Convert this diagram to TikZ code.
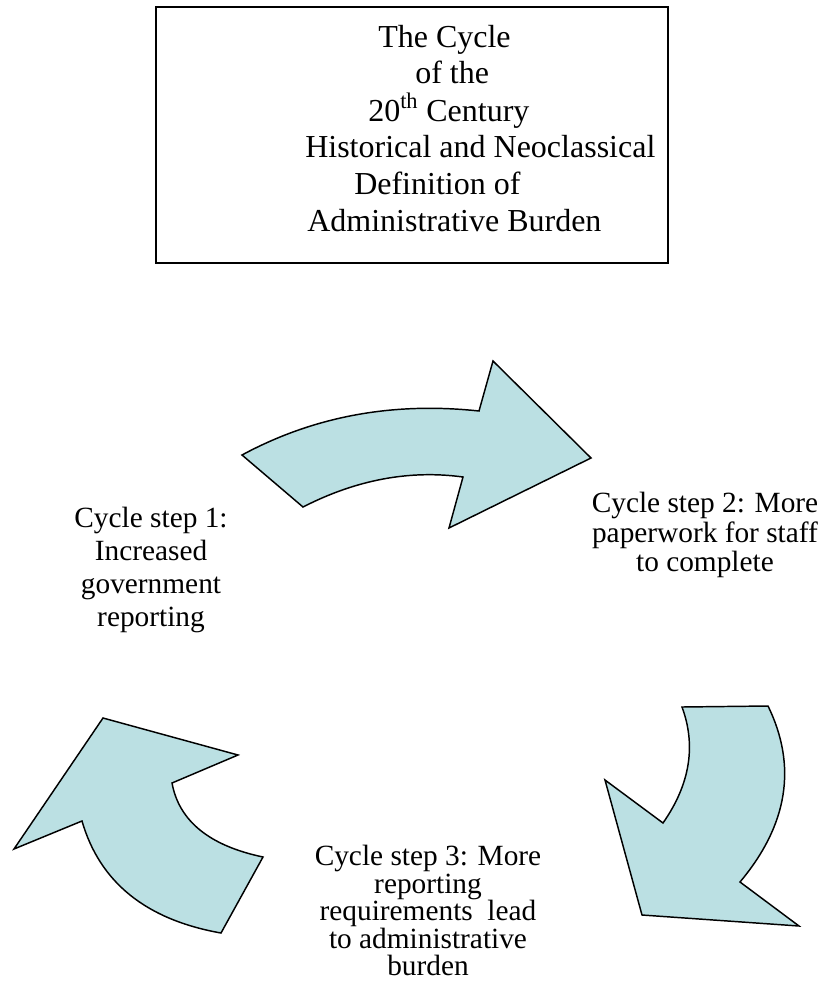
\documentclass[tikz,border=0pt]{standalone}
\usepackage{fontspec}
\setmainfont{Liberation Serif}
\usepackage{xcolor}
\definecolor{CyclePale}{HTML}{BBE0E3}
\usepackage{tikz}

\tikzset{
	cyclearrow/.style={draw=black, line width=1.1pt, fill=CyclePale, line join=miter},
	steptext/.style={align=center, inner sep=0pt, anchor=north},
	titleline/.style={anchor=base west, inner sep=0pt, font=\fontsize{24}{27.5}\selectfont}
}

\begin{document}
\begin{tikzpicture}[x=0.75pt,y=-0.75pt]
		\useasboundingbox (0,0) rectangle (824,983);
		
		% heading box
		\node (titlebox) [draw, line width=1.2pt, inner sep=0pt, minimum width=384pt, minimum height=192pt] at (412,135) {};
		\foreach \tx/\ty/\tline [count=\i] in {378/47/The Cycle, 415/83/of the, 368/121/20\textsuperscript{th} Century, 305/157/Historical and Neoclassical, 354/194/Definition of, 307/231/Administrative Burden}{
			\node (title\i) [titleline] at (\tx,\ty) {\tline};
		}
		
		% the three steps
		\node (step1) [steptext, font=\fontsize{22}{24.75}\selectfont] at (151,507) {Cycle step 1:\\Increased\\government\\reporting};
		\node (step2) [steptext, font=\fontsize{22}{22.1}\selectfont] at (705,492) {Cycle step 2: More\\paperwork for staff\\to complete};
		\node (step3) [steptext, font=\fontsize{22}{20.6}\selectfont] at (428,845) {Cycle step 3: More\\reporting\\requirements\ \ lead\\to administrative\\burden};
		
		% arrow from step 1 to step 2
		\draw[cyclearrow] (242,455) .. controls (313.7,416.3) and (392.7,401.7) .. (479,411) -- (493,361) -- (591,458) -- (449,528) -- (463,477)
			.. controls (409.7,469.7) and (356.3,479.7) .. (303,507) -- cycle;
		
		% arrow from step 2 to step 3
		\draw[cyclearrow] (682,707) -- (768,706) .. controls (797.3,766) and (788,824.7) .. (740,882) -- (799,926) -- (642,915) -- (605,780) -- (663,823)
			.. controls (690,784.3) and (696.3,745.7) .. cycle;
		
		% arrow from step 3 back to step 1
		\draw[cyclearrow] (103,718) -- (238,755) -- (172,783) .. controls (179,821) and (209.3,845.7) .. (263,857) -- (221,933)
			.. controls (146,919.7) and (99.7,882.3) .. (82,821) -- (14,849) -- cycle;
		
	\end{tikzpicture}
\end{document}
